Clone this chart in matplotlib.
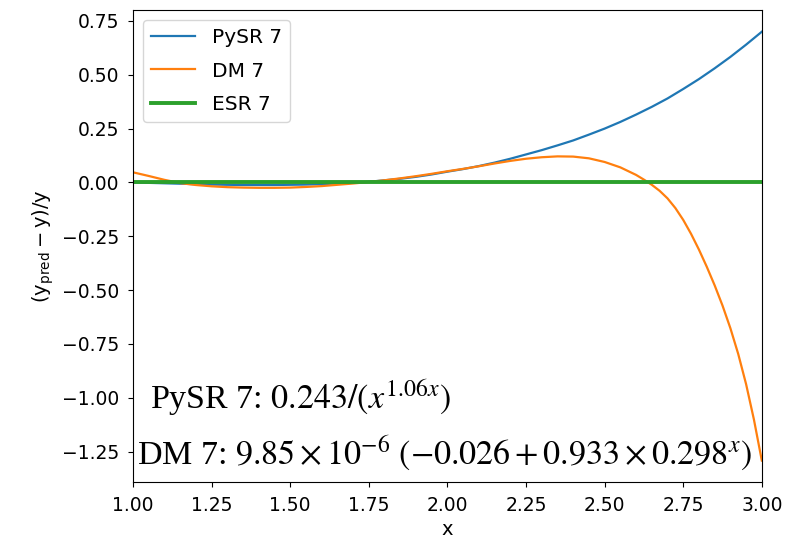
import matplotlib

matplotlib.use("Agg")
import matplotlib.pyplot as plt

x = [1.00, 1.05, 1.10, 1.15, 1.20, 1.25, 1.30, 1.35, 1.40, 1.45,
     1.50, 1.55, 1.60, 1.65, 1.70, 1.75, 1.80, 1.85, 1.90, 1.95,
     2.00, 2.05, 2.10, 2.15, 2.20, 2.25, 2.30, 2.35, 2.40, 2.45,
     2.50, 2.55, 2.60, 2.65, 2.70, 2.75, 2.80, 2.85, 2.90, 2.95, 3.00]

pysr_err = [0.000, -0.002, -0.004, -0.006, -0.008, -0.010, -0.011, -0.012, -0.012, -0.012,
            -0.011, -0.010, -0.008, -0.005, -0.002, 0.003, 0.010, 0.017, 0.026, 0.037,
            0.050, 0.062, 0.076, 0.092, 0.110, 0.130, 0.150, 0.172, 0.195, 0.222,
            0.250, 0.281, 0.315, 0.351, 0.390, 0.434, 0.480, 0.530, 0.583, 0.640, 0.700]

x_dm = [1.00, 1.05, 1.10, 1.15, 1.20, 1.25, 1.30, 1.35, 1.40, 1.45,
        1.50, 1.55, 1.60, 1.65, 1.70, 1.75, 1.80, 1.85, 1.90, 1.95,
        2.00, 2.05, 2.10, 2.15, 2.20, 2.25, 2.30, 2.35, 2.40, 2.45,
        2.50, 2.55, 2.600, 2.625, 2.650, 2.675, 2.700, 2.725, 2.750, 2.775,
        2.800, 2.825, 2.850, 2.875, 2.900, 2.925, 2.950, 2.975, 3.000]

dm_err = [0.047, 0.030, 0.012, -0.003, -0.012, -0.018, -0.022, -0.024, -0.025, -0.025,
          -0.024, -0.021, -0.017, -0.011, -0.005, 0.002, 0.010, 0.019, 0.029, 0.040,
          0.052, 0.063, 0.075, 0.088, 0.100, 0.110, 0.117, 0.121, 0.120, 0.112,
          0.095, 0.070, 0.035, 0.013, -0.011, -0.039, -0.074, -0.119, -0.174, -0.239,
          -0.312, -0.392, -0.478, -0.572, -0.677, -0.797, -0.937, -1.102, -1.292]

esr_err = [0.0] * len(x)

labels = ["PySR 7", "DM 7", "ESR 7"]
pysr_expr = r"PySR 7: $0.243/(x^{1.06x})$"
dm_expr = r"DM 7: $9.85\times10^{-6}\ (-0.026+0.933\times0.298^{x})$"

fig = plt.figure(figsize=(7.87, 5.41), dpi=100)
ax = fig.add_axes([0.169, 0.109, 0.799, 0.872])

ax.plot(x, pysr_err, color="#1f77b4", lw=1.6, label=labels[0])
ax.plot(x_dm, dm_err, color="#ff7f0e", lw=1.6, label=labels[1])
ax.plot(x, esr_err, color="#2ca02c", lw=2.8, label=labels[2])

ax.set_xlim(1.0, 3.0)
ax.tick_params(labelsize=13.5, pad=6.5)
ax.set_xlabel("x", fontsize=14)
ax.set_ylabel(r"$(\mathrm{y}_{\mathrm{pred}}-\mathrm{y})/\mathrm{y}$", fontsize=14)
ax.legend(loc="upper left", fontsize=14.5, labelspacing=0.7, handlelength=2.2)

ax.text(1.054, -1.051, pysr_expr, fontsize=24.5, family="Liberation Serif",
        math_fontfamily="stix", va="baseline", ha="left")
ax.text(1.013, -1.308, dm_expr, fontsize=24.5, family="Liberation Serif",
        math_fontfamily="stix", va="baseline", ha="left",
        bbox=dict(facecolor="white", edgecolor="none", pad=0.5))

fig.savefig("out.png", dpi=100)
